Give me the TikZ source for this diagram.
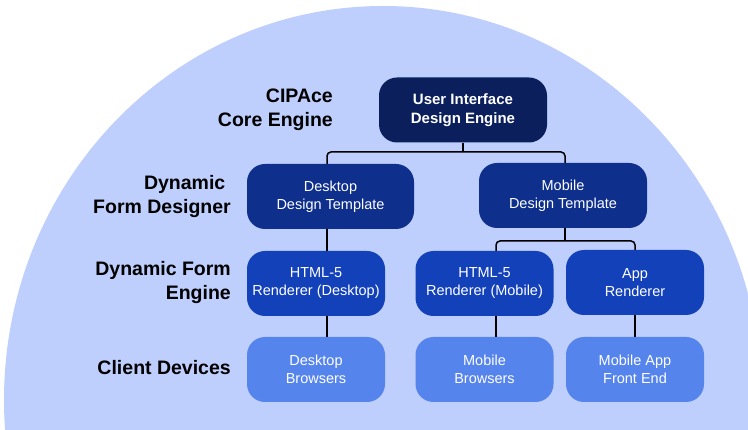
\documentclass[tikz,border=0pt]{standalone}
\usepackage{fontspec}
\setmainfont{Liberation Sans}
\definecolor{bgblue}{HTML}{BECFFD}
\definecolor{lvA}{HTML}{0B1F5C}
\definecolor{lvB}{HTML}{0E2F8B}
\definecolor{lvC}{HTML}{1241BA}
\definecolor{lvD}{HTML}{5584EC}
\tikzset{
  box/.style={rounded corners=18pt, minimum height=65pt, inner sep=0pt, align=center, text=white,
    font=\fontsize{14.5}{18}\selectfont},
  conn/.style={draw=black, line width=1.5pt, rounded corners=4pt},
  lbl/.style={anchor=east, align=right, inner sep=0pt, font=\fontsize{19.5}{24.5}\selectfont\bfseries}
}
\begin{document}
\begin{tikzpicture}[x=1pt,y=-1pt]
\useasboundingbox (0,0) rectangle (748,430);
\fill[white] (0,0) rectangle (748,430);
\begin{scope}
\clip (0,0) rectangle (748,430);
\fill[bgblue] (383,400) ellipse [x radius=379, y radius=394];
\end{scope}

% nodes
\node[box, fill=lvA, minimum width=168pt, font=\fontsize{15}{18.7}\selectfont\bfseries] (ui) at (463,110) {User Interface\\Design Engine};
\node[box, fill=lvB, minimum width=167pt] (dt) at (330.5,196.5) {Desktop\\Design Template};
\node[box, fill=lvB, minimum width=168pt] (mt) at (563,195.5) {Mobile\\Design Template};
\node[box, fill=lvC, minimum width=138pt] (hd) at (316,283.5) {HTML-5\\Renderer (Desktop)};
\node[box, fill=lvC, minimum width=138pt] (hm) at (484.5,283.5) {HTML-5\\Renderer (Mobile)};
\node[box, fill=lvC, minimum width=138pt] (ar) at (635,282.5) {App\\Renderer};
\node[box, fill=lvD, minimum width=138pt] (db) at (316,369.5) {Desktop\\Browsers};
\node[box, fill=lvD, minimum width=138pt] (mb) at (484.5,369.5) {Mobile\\Browsers};
\node[box, fill=lvD, minimum width=138pt] (af) at (635,369.5) {Mobile App\\Front End};

% labels
\node[lbl] (l1) at (333,110) {CIPAce\\Core Engine};
\node[lbl] (l2) at (231,196.5) {Dynamic\hspace*{5.5pt}\\Form Designer};
\node[lbl] (l3) at (231,282.5) {Dynamic Form\\Engine};
\node[lbl] (l4) at (231,367.5) {Client Devices};

% connectors
\coordinate (xa) at (327,0);
\coordinate (xb) at (496,0);
\coordinate (xc) at (565,0);
\coordinate (j1) at (463,152);
\coordinate (j2) at (565,241);
\draw[conn] (ui.south) -- (j1);
\draw[conn] (j1) -| (dt.north -| xa);
\draw[conn] (j1) -| (mt.north -| xc);
\draw[conn] (dt.south -| xa) -- (hd.north -| xa);
\draw[conn] (hd.south -| xa) -- (db.north -| xa);
\draw[conn] (mt.south -| xc) -- (j2);
\draw[conn] (j2) -| (hm.north -| xb);
\draw[conn] (j2) -| (ar.north);
\draw[conn] (hm.south -| xb) -- (mb.north -| xb);
\draw[conn] (ar.south) -- (af.north);
\end{tikzpicture}
\end{document}
